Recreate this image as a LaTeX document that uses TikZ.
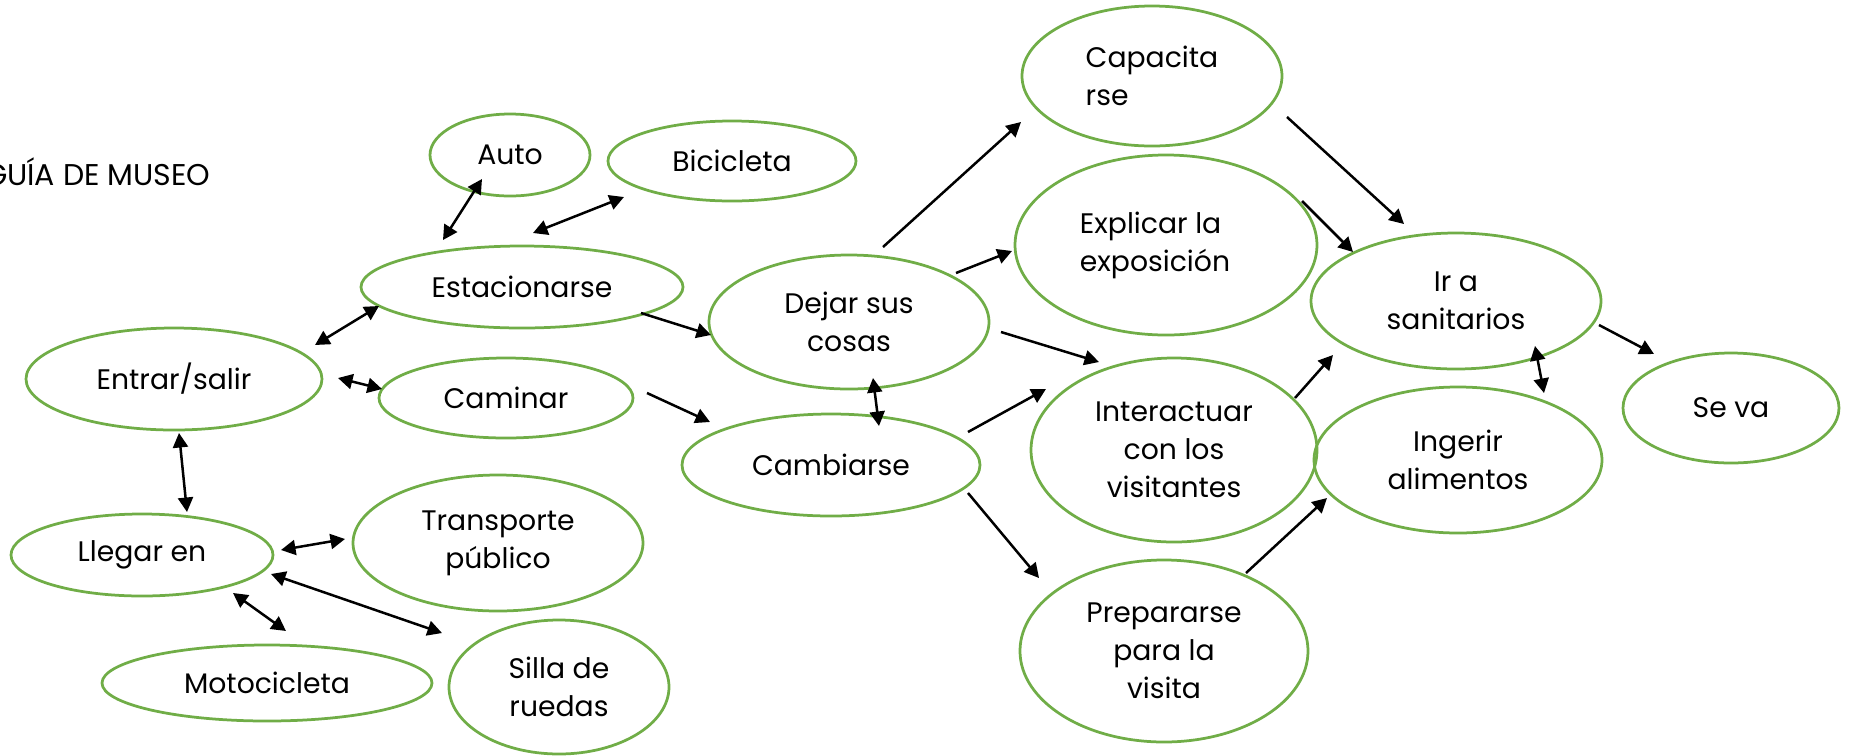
\documentclass[tikz,border=0pt]{standalone}
\usepackage{fontspec}
\setmainfont{Poppins}
\usetikzlibrary{shapes.geometric,arrows.meta}
\definecolor{elgreen}{HTML}{70AD47}
\tikzset{
  bub/.style 2 args={ellipse, draw=elgreen, line width=1.1pt, inner sep=0pt,
    minimum width=#1*0.8pt, minimum height=#2*0.8pt, align=center,
    font=\fontsize{11.3pt}{15.2pt}\selectfont},
  arr/.style={line width=1pt, -{Triangle[length=5.8pt,width=6pt]}},
  darr/.style={line width=1pt, {Triangle[length=5.8pt,width=6pt]}-{Triangle[length=5.8pt,width=6pt]}},
}
\newcommand{\sh}[3]{([shift={(#1,#2)}]#3.center)}
\begin{document}
\begin{tikzpicture}[x=0.4pt,y=-0.4pt]
\useasboundingbox (0,0) rectangle (1849,755);
\node[anchor=base east, font=\fontsize{12pt}{15.2pt}\selectfont, inner sep=0pt] (title) at (211,185) {GUÍA DE MUSEO};
% nodes
\node[bub={80}{41}] (auto) at (510,155) {Auto};
\node[bub={124}{40}] (bici) at (732,161) {Bicicleta};
\node[bub={161}{41}] (estac) at (522,287) {Estacionarse};
\node[bub={148}{51}] (entrar) at (174,379) {Entrar/salir};
\node[bub={127}{40}] (caminar) at (506,398) {Caminar};
\node[bub={131}{41}] (llegar) at (142,555) {Llegar en};
\node[bub={145}{68}] (transp) at (498,543) {Transporte\\público};
\node[bub={165}{38}] (moto) at (267,683) {Motocicleta};
\node[bub={110}{67}] (silla) at (559,687) {Silla de\\ruedas};
\node[bub={140}{67}] (dejar) at (849,322) {Dejar sus\\cosas};
\node[bub={149}{51}] (camb) at (831,465) {Cambiarse};
\node[bub={130}{70}, align=left] (capa) at (1152,76) {Capacita\\rse};
\node[bub={151}{90}] (expl) at (1166,245) {};
\node[align=left, inner sep=0pt, font=\fontsize{11.3pt}{15.2pt}\selectfont] (explt) at (1155,245) {Explicar la\\exposición};
\node[bub={143}{92}] (inter) at (1174,450) {Interactuar\\con los\\visitantes};
\node[bub={144}{91}] (prep) at (1164,651) {Prepararse\\para la\\visita};
\node[bub={145}{68}] (ir) at (1456,301) {Ir a\\sanitarios};
\node[bub={144}{73}] (ing) at (1458,460) {Ingerir\\alimentos};
\node[bub={108}{55}] (seva) at (1731,408) {Se va};
% connectors
\draw[darr] \sh{-28}{24}{auto} -- \sh{-79}{-47}{estac};
\draw[darr] \sh{-108}{36}{bici} -- \sh{11}{-54}{estac};
\draw[darr] \sh{-143}{19}{estac} -- \sh{141}{-34}{entrar};
\draw[darr] \sh{164}{-1}{entrar} -- \sh{-124}{-9}{caminar};
\draw[arr] \sh{119}{26}{estac} -- \sh{-138}{13}{dejar};
\draw[arr] \sh{141}{-5}{caminar} -- \sh{-121}{-43}{camb};
\draw[darr] \sh{5}{54}{entrar} -- \sh{45}{-43}{llegar};
\draw[darr] \sh{139}{-5}{llegar} -- \sh{-153}{-4}{transp};
\draw[darr] \sh{129}{19}{llegar} -- \sh{-117}{-54}{silla};
\draw[darr] \sh{91}{38}{llegar} -- \sh{19}{-52}{moto};
\draw[darr] \sh{24}{56}{dejar} -- \sh{48}{-39}{camb};
\draw[arr] \sh{34}{-75}{dejar} -- \sh{-131}{46}{capa};
\draw[arr] \sh{107}{-49}{dejar} -- \sh{-154}{6}{expl};
\draw[arr] \sh{152}{10}{dejar} -- \sh{-75}{-88}{inter};
\draw[arr] \sh{137}{-33}{camb} -- \sh{-128}{-61}{inter};
\draw[arr] \sh{137}{28}{camb} -- \sh{-125}{-73}{prep};
\draw[arr] \sh{135}{41}{capa} -- \sh{-52}{-77}{ir};
\draw[arr] \sh{136}{-44}{expl} -- \sh{-103}{-49}{ir};
\draw[arr] \sh{121}{-52}{inter} -- \sh{-123}{54}{ir};
\draw[arr] \sh{82}{-78}{prep} -- \sh{-131}{38}{ing};
\draw[darr] \sh{79}{45}{ir} -- \sh{86}{-67}{ing};
\draw[arr] \sh{143}{24}{ir} -- \sh{-77}{-54}{seva};
\end{tikzpicture}
\end{document}
